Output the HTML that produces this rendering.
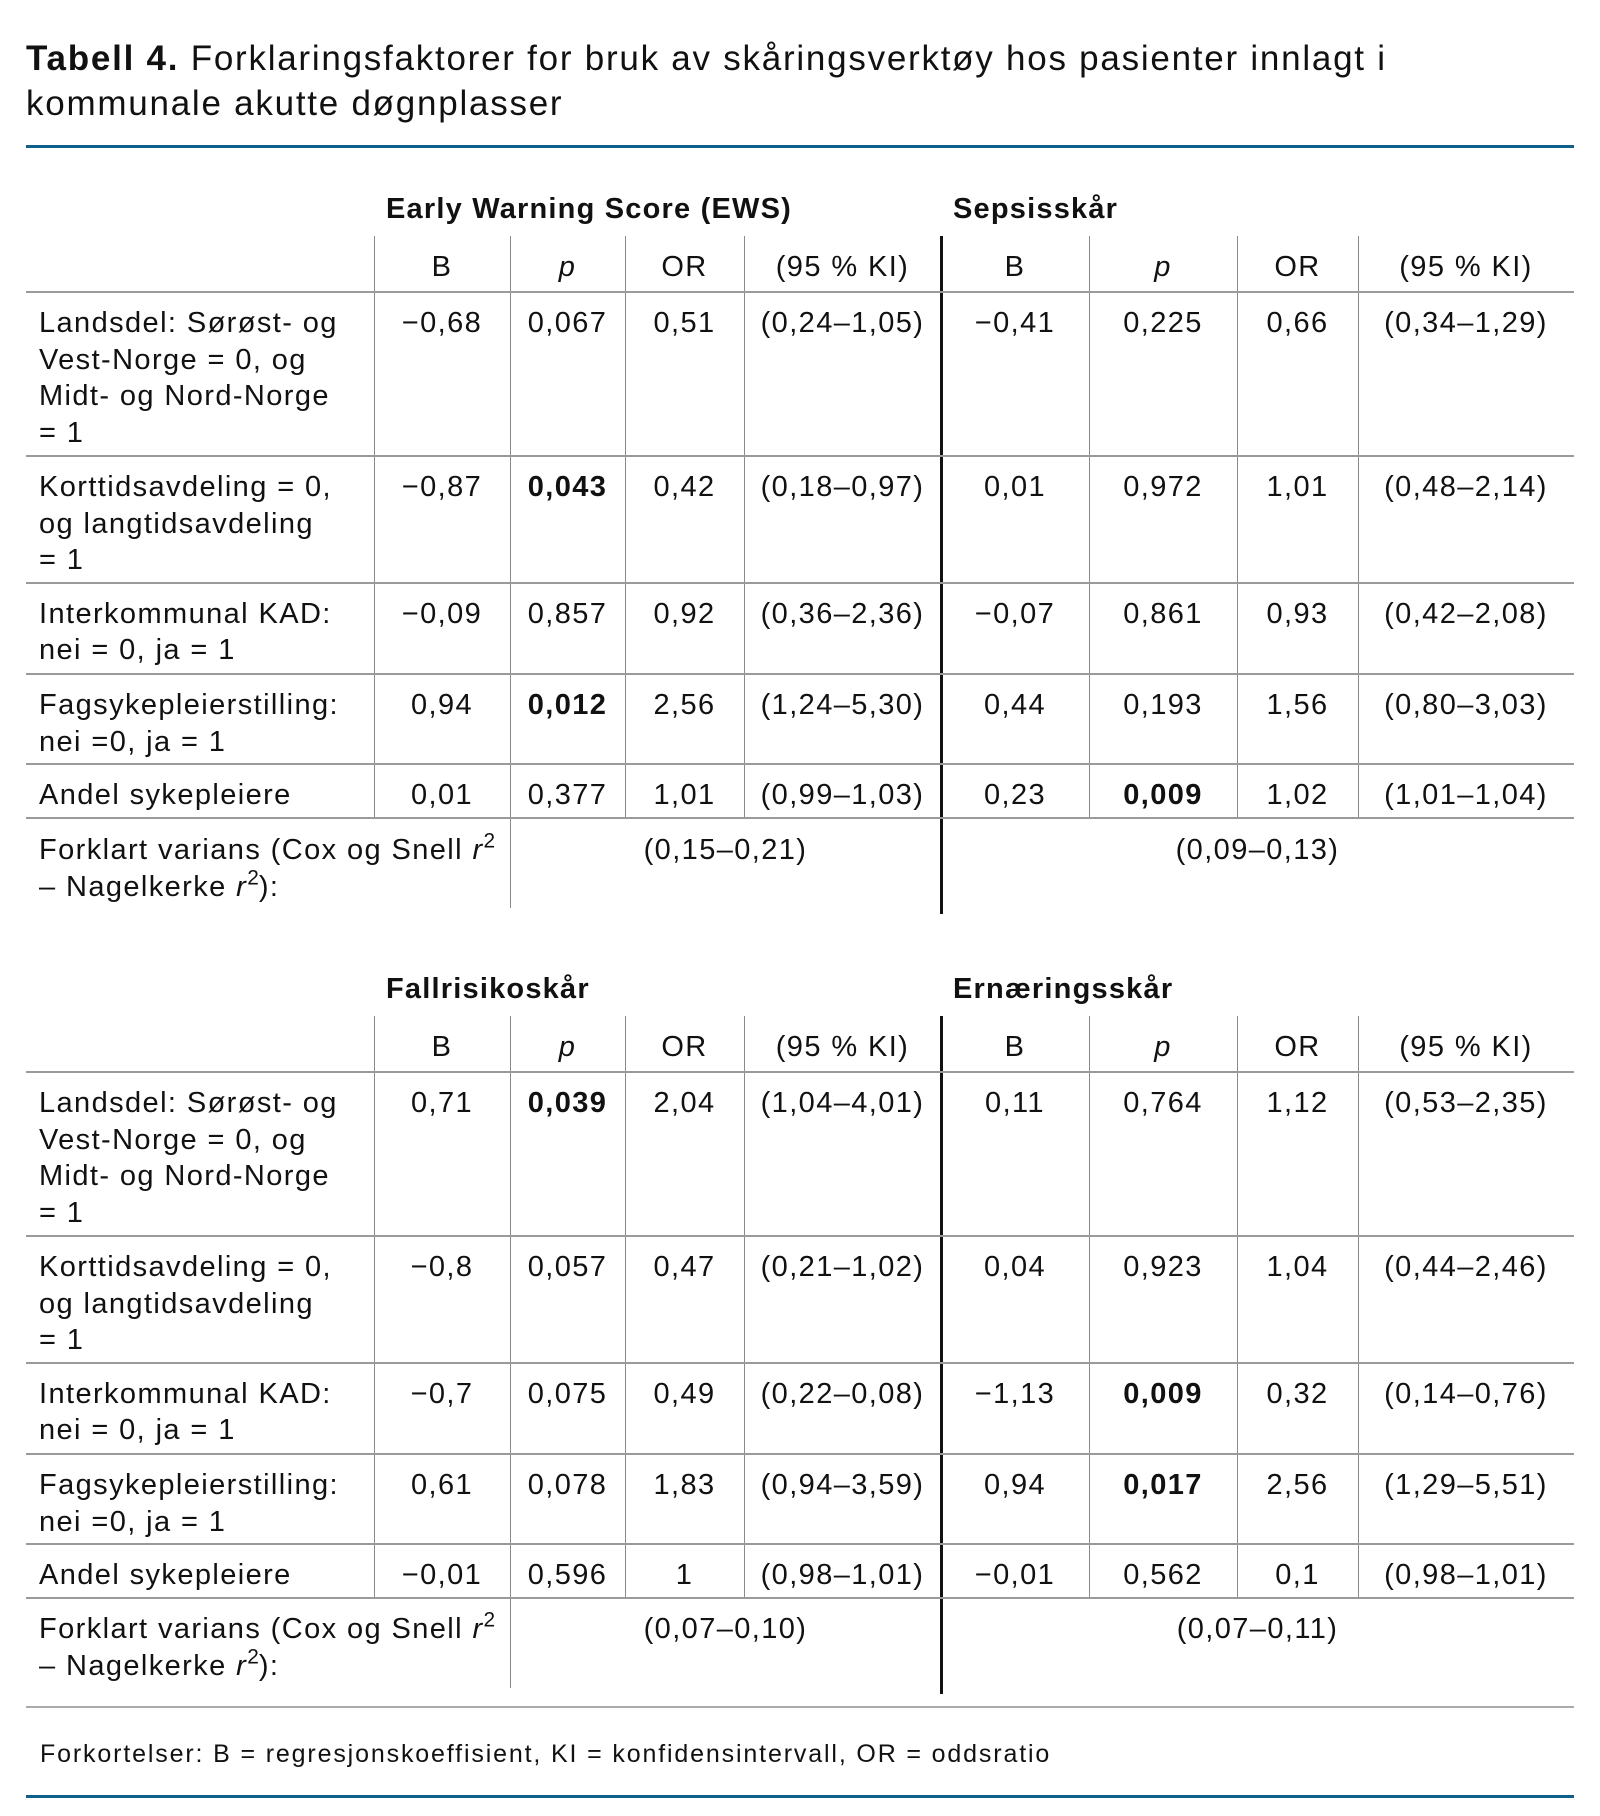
<!DOCTYPE html>
<html><head><meta charset="utf-8">
<style>
html,body{margin:0;padding:0;background:#fff;}
#p{position:relative;width:1600px;height:1816px;overflow:hidden;background:#fff;}
.t{position:absolute;font-family:"Liberation Sans",Arial,sans-serif;font-size:29px;line-height:36.7px;letter-spacing:1.4px;white-space:nowrap;color:#111;text-align:center;}
.L{left:39px;text-align:left;}
.gh{font-weight:bold;letter-spacing:1.2px;text-align:left;}
.a{left:374px;width:136px}.b{left:510px;width:115px}.c{left:625px;width:119px}.d{left:744px;width:197px}
.e{left:941px;width:148px}.f{left:1089px;width:148px}.g{left:1237px;width:121px}.h{left:1358px;width:216px}
.v1{left:510px;width:431px}.v2{left:941px;width:633px}
b{font-weight:bold}
sup{font-size:0.72em;line-height:0;vertical-align:0.55em;letter-spacing:0}
.hl{position:absolute;left:26px;width:1548px;height:2px;background:#9a9a9a;}
.vl{position:absolute;width:1px;background:#8a8a8a;}
.tk{position:absolute;left:940px;width:3px;background:#111;}
.blue{position:absolute;left:26px;width:1548px;height:3.5px;background:#0f5f8b;}
.title{position:absolute;left:26px;top:35.5px;font-family:"Liberation Sans",Arial,sans-serif;font-size:35px;line-height:45px;letter-spacing:1.75px;color:#111;white-space:nowrap;}
.fn{position:absolute;left:40px;top:1739px;font-family:"Liberation Sans",Arial,sans-serif;font-size:25px;line-height:30px;letter-spacing:1.85px;color:#111;white-space:nowrap;}
</style></head><body><div id="p">

<div class="title"><b>Tabell 4.</b> Forklaringsfaktorer for bruk av skåringsverktøy hos pasienter innlagt i<br>kommunale akutte døgnplasser</div>
<div class="blue" style="top:144.5px"></div>

<!-- TABLE 1 -->
<div class="t gh" style="left:386px;top:191px">Early Warning Score (EWS)</div>
<div class="t gh" style="left:953px;top:191px">Sepsisskår</div>

<div class="vl" style="left:374px;top:236px;height:582px"></div>
<div class="vl" style="left:510px;top:236px;height:672px"></div>
<div class="vl" style="left:625px;top:236px;height:582px"></div>
<div class="vl" style="left:744px;top:236px;height:582px"></div>
<div class="vl" style="left:1089px;top:236px;height:582px"></div>
<div class="vl" style="left:1237px;top:236px;height:582px"></div>
<div class="vl" style="left:1358px;top:236px;height:582px"></div>
<div class="tk" style="top:236px;height:678px"></div>

<div class="hl" style="top:291px"></div>
<div class="hl" style="top:455px"></div>
<div class="hl" style="top:582px"></div>
<div class="hl" style="top:673px"></div>
<div class="hl" style="top:763px"></div>
<div class="hl" style="top:817px"></div>

<div class="t a" style="top:249px">B</div><div class="t b" style="top:249px"><i>p</i></div><div class="t c" style="top:249px">OR</div><div class="t d" style="top:249px">(95 % KI)</div>
<div class="t e" style="top:249px">B</div><div class="t f" style="top:249px"><i>p</i></div><div class="t g" style="top:249px">OR</div><div class="t h" style="top:249px">(95 % KI)</div>

<div class="t L" style="top:305px">Landsdel: Sørøst- og<br>Vest-Norge = 0, og<br>Midt- og Nord-Norge<br>= 1</div>
<div class="t a" style="top:305px">−0,68</div><div class="t b" style="top:305px">0,067</div><div class="t c" style="top:305px">0,51</div><div class="t d" style="top:305px">(0,24–1,05)</div>
<div class="t e" style="top:305px">−0,41</div><div class="t f" style="top:305px">0,225</div><div class="t g" style="top:305px">0,66</div><div class="t h" style="top:305px">(0,34–1,29)</div>

<div class="t L" style="top:469px">Korttidsavdeling = 0,<br>og langtidsavdeling<br>= 1</div>
<div class="t a" style="top:469px">−0,87</div><div class="t b" style="top:469px"><b>0,043</b></div><div class="t c" style="top:469px">0,42</div><div class="t d" style="top:469px">(0,18–0,97)</div>
<div class="t e" style="top:469px">0,01</div><div class="t f" style="top:469px">0,972</div><div class="t g" style="top:469px">1,01</div><div class="t h" style="top:469px">(0,48–2,14)</div>

<div class="t L" style="top:595.5px">Interkommunal KAD:<br>nei = 0, ja = 1</div>
<div class="t a" style="top:595.5px">−0,09</div><div class="t b" style="top:595.5px">0,857</div><div class="t c" style="top:595.5px">0,92</div><div class="t d" style="top:595.5px">(0,36–2,36)</div>
<div class="t e" style="top:595.5px">−0,07</div><div class="t f" style="top:595.5px">0,861</div><div class="t g" style="top:595.5px">0,93</div><div class="t h" style="top:595.5px">(0,42–2,08)</div>

<div class="t L" style="top:687px">Fagsykepleierstilling:<br>nei =0, ja = 1</div>
<div class="t a" style="top:687px">0,94</div><div class="t b" style="top:687px"><b>0,012</b></div><div class="t c" style="top:687px">2,56</div><div class="t d" style="top:687px">(1,24–5,30)</div>
<div class="t e" style="top:687px">0,44</div><div class="t f" style="top:687px">0,193</div><div class="t g" style="top:687px">1,56</div><div class="t h" style="top:687px">(0,80–3,03)</div>

<div class="t L" style="top:777px">Andel sykepleiere</div>
<div class="t a" style="top:777px">0,01</div><div class="t b" style="top:777px">0,377</div><div class="t c" style="top:777px">1,01</div><div class="t d" style="top:777px">(0,99–1,03)</div>
<div class="t e" style="top:777px">0,23</div><div class="t f" style="top:777px"><b>0,009</b></div><div class="t g" style="top:777px">1,02</div><div class="t h" style="top:777px">(1,01–1,04)</div>

<div class="t L" style="top:832px">Forklart varians (Cox og Snell <i>r</i><sup>2</sup><br>– Nagelkerke <i>r</i><sup>2</sup>):</div>
<div class="t v1" style="top:832px">(0,15–0,21)</div>
<div class="t v2" style="top:832px">(0,09–0,13)</div>

<!-- TABLE 2 -->
<div class="t gh" style="left:386px;top:971px">Fallrisikoskår</div>
<div class="t gh" style="left:953px;top:971px">Ernæringsskår</div>

<div class="vl" style="left:374px;top:1016px;height:582px"></div>
<div class="vl" style="left:510px;top:1016px;height:672px"></div>
<div class="vl" style="left:625px;top:1016px;height:582px"></div>
<div class="vl" style="left:744px;top:1016px;height:582px"></div>
<div class="vl" style="left:1089px;top:1016px;height:582px"></div>
<div class="vl" style="left:1237px;top:1016px;height:582px"></div>
<div class="vl" style="left:1358px;top:1016px;height:582px"></div>
<div class="tk" style="top:1016px;height:678px"></div>

<div class="hl" style="top:1071px"></div>
<div class="hl" style="top:1235px"></div>
<div class="hl" style="top:1362px"></div>
<div class="hl" style="top:1453px"></div>
<div class="hl" style="top:1543px"></div>
<div class="hl" style="top:1597px"></div>

<div class="t a" style="top:1029px">B</div><div class="t b" style="top:1029px"><i>p</i></div><div class="t c" style="top:1029px">OR</div><div class="t d" style="top:1029px">(95 % KI)</div>
<div class="t e" style="top:1029px">B</div><div class="t f" style="top:1029px"><i>p</i></div><div class="t g" style="top:1029px">OR</div><div class="t h" style="top:1029px">(95 % KI)</div>

<div class="t L" style="top:1085px">Landsdel: Sørøst- og<br>Vest-Norge = 0, og<br>Midt- og Nord-Norge<br>= 1</div>
<div class="t a" style="top:1085px">0,71</div><div class="t b" style="top:1085px"><b>0,039</b></div><div class="t c" style="top:1085px">2,04</div><div class="t d" style="top:1085px">(1,04–4,01)</div>
<div class="t e" style="top:1085px">0,11</div><div class="t f" style="top:1085px">0,764</div><div class="t g" style="top:1085px">1,12</div><div class="t h" style="top:1085px">(0,53–2,35)</div>

<div class="t L" style="top:1249px">Korttidsavdeling = 0,<br>og langtidsavdeling<br>= 1</div>
<div class="t a" style="top:1249px">−0,8</div><div class="t b" style="top:1249px">0,057</div><div class="t c" style="top:1249px">0,47</div><div class="t d" style="top:1249px">(0,21–1,02)</div>
<div class="t e" style="top:1249px">0,04</div><div class="t f" style="top:1249px">0,923</div><div class="t g" style="top:1249px">1,04</div><div class="t h" style="top:1249px">(0,44–2,46)</div>

<div class="t L" style="top:1375.5px">Interkommunal KAD:<br>nei = 0, ja = 1</div>
<div class="t a" style="top:1375.5px">−0,7</div><div class="t b" style="top:1375.5px">0,075</div><div class="t c" style="top:1375.5px">0,49</div><div class="t d" style="top:1375.5px">(0,22–0,08)</div>
<div class="t e" style="top:1375.5px">−1,13</div><div class="t f" style="top:1375.5px"><b>0,009</b></div><div class="t g" style="top:1375.5px">0,32</div><div class="t h" style="top:1375.5px">(0,14–0,76)</div>

<div class="t L" style="top:1467px">Fagsykepleierstilling:<br>nei =0, ja = 1</div>
<div class="t a" style="top:1467px">0,61</div><div class="t b" style="top:1467px">0,078</div><div class="t c" style="top:1467px">1,83</div><div class="t d" style="top:1467px">(0,94–3,59)</div>
<div class="t e" style="top:1467px">0,94</div><div class="t f" style="top:1467px"><b>0,017</b></div><div class="t g" style="top:1467px">2,56</div><div class="t h" style="top:1467px">(1,29–5,51)</div>

<div class="t L" style="top:1557px">Andel sykepleiere</div>
<div class="t a" style="top:1557px">−0,01</div><div class="t b" style="top:1557px">0,596</div><div class="t c" style="top:1557px">1</div><div class="t d" style="top:1557px">(0,98–1,01)</div>
<div class="t e" style="top:1557px">−0,01</div><div class="t f" style="top:1557px">0,562</div><div class="t g" style="top:1557px">0,1</div><div class="t h" style="top:1557px">(0,98–1,01)</div>

<div class="t L" style="top:1611px">Forklart varians (Cox og Snell <i>r</i><sup>2</sup><br>– Nagelkerke <i>r</i><sup>2</sup>):</div>
<div class="t v1" style="top:1611px">(0,07–0,10)</div>
<div class="t v2" style="top:1611px">(0,07–0,11)</div>

<div class="hl" style="top:1706px;height:2px;background:#aaa"></div>
<div class="fn">Forkortelser: B = regresjonskoeffisient, KI = konfidensintervall, OR = oddsratio</div>
<div class="blue" style="top:1794.5px"></div>

</div></body></html>
